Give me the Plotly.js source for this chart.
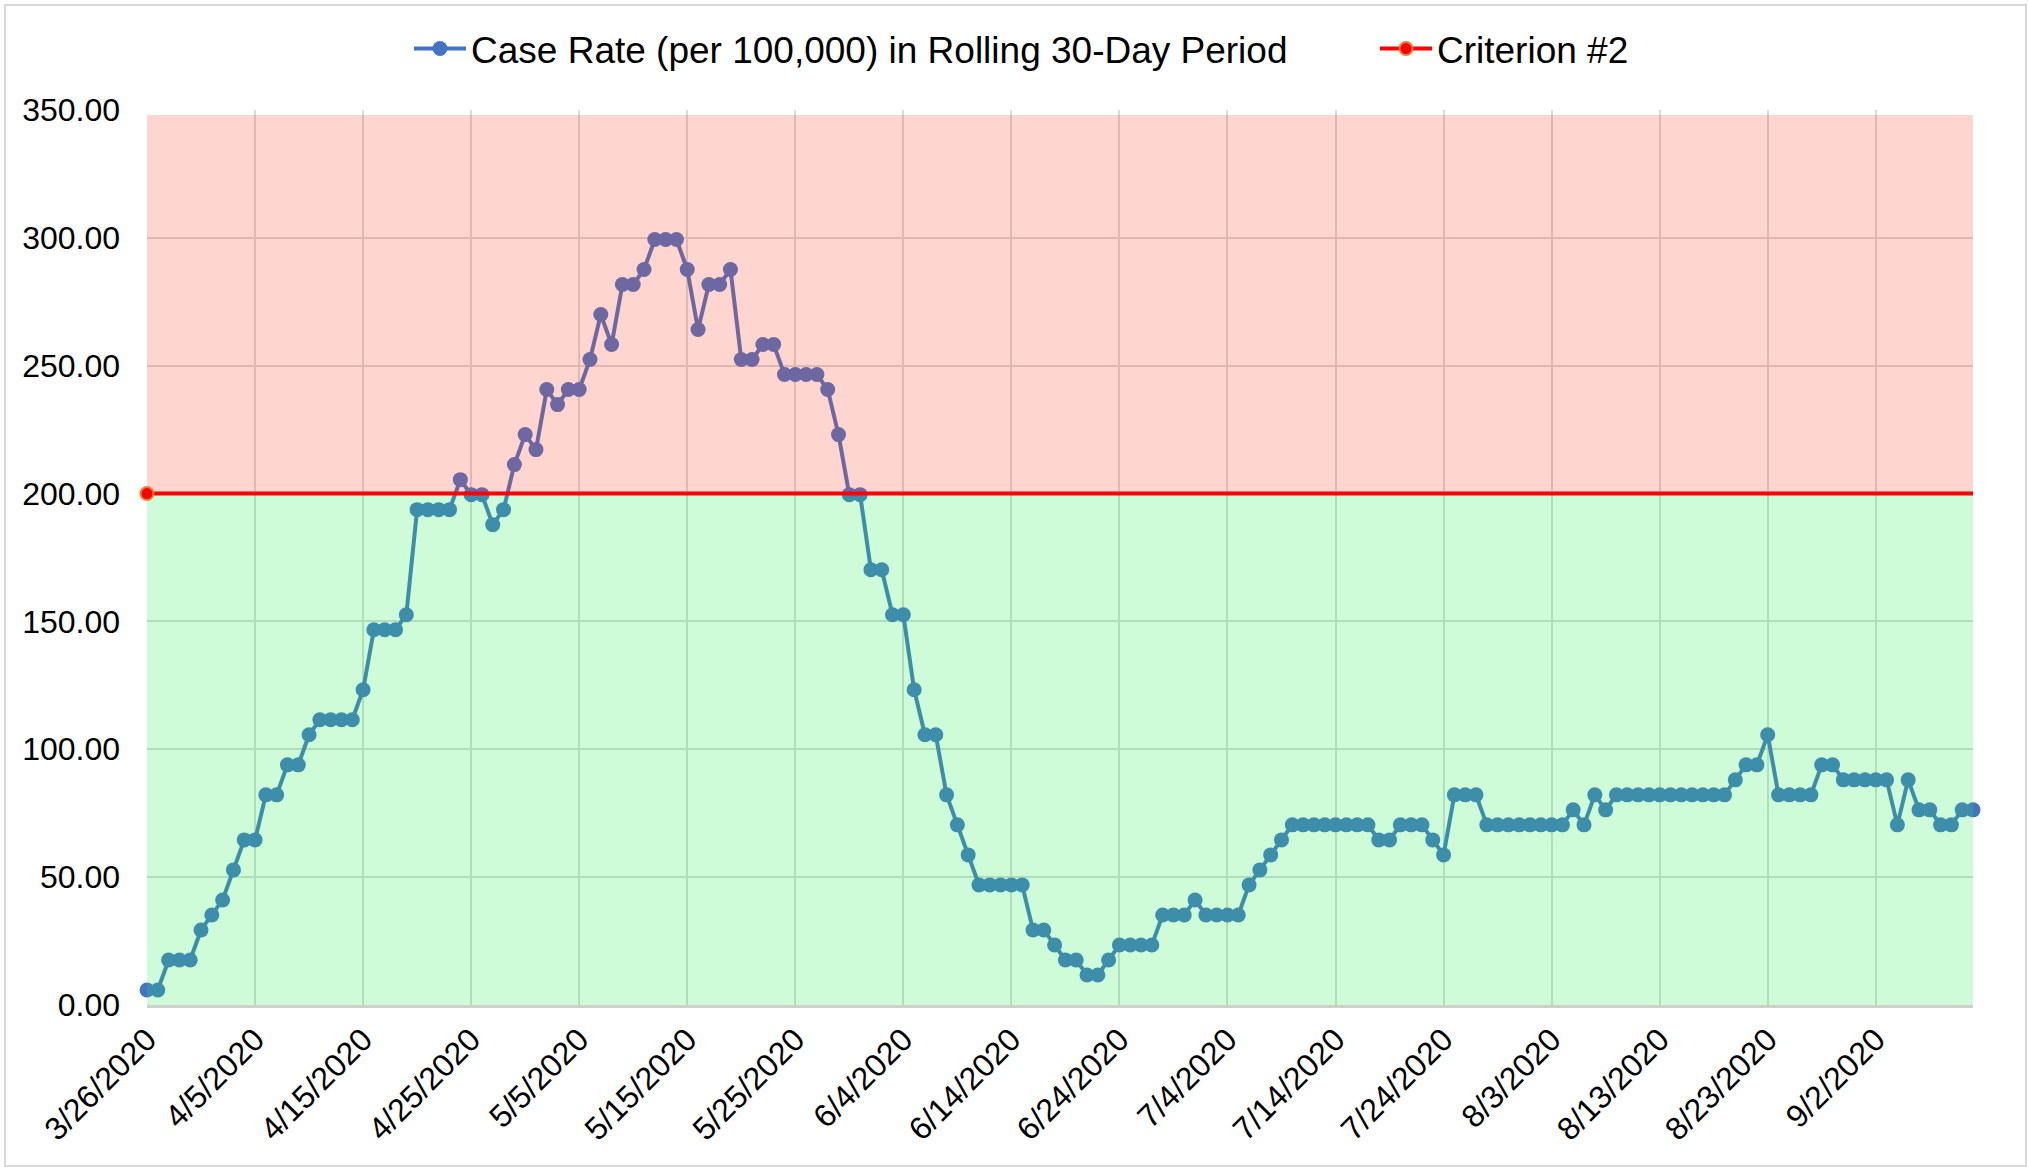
<!DOCTYPE html>
<html>
<head>
<meta charset="utf-8">
<script src="https://cdn.plot.ly/plotly-3.0.1.min.js"></script>
<style>
  html, body { margin: 0; padding: 0; background: #ffffff; }
  #wrap { position: relative; width: 2028px; height: 1167px; }
  #chart { position: absolute; left: 0; top: 0; width: 2028px; height: 1167px; }
  #frame { position: absolute; left: 4px; top: 4px; width: 2019px; height: 1159px;
           border: 2px solid #D9D9D9; pointer-events: none; }
</style>
</head>
<body>
<div id="wrap">
  <div id="chart"></div>
  <div id="frame"></div>
</div>
<script>
// ---- Data ----
const startDate = '2020-03-26';
const endDate = '2020-09-11';

// Case rate per 100,000 in rolling 30-day period, one value per day from 3/26/2020 to 9/11/2020
const caseRate = [
  5.87, 5.87, 17.61, 17.61, 17.61, 29.35, 35.22, 41.09, 52.83, 64.57,
  64.57, 82.18, 82.18, 93.92, 93.92, 105.66, 111.53, 111.53, 111.53, 111.53,
  123.27, 146.75, 146.75, 146.75, 152.62, 193.71, 193.71, 193.71, 193.71, 205.45,
  199.58, 199.58, 187.84, 193.71, 211.32, 223.06, 217.19, 240.67, 234.80, 240.67,
  240.67, 252.41, 270.02, 258.28, 281.76, 281.76, 287.63, 299.37, 299.37, 299.37,
  287.63, 264.15, 281.76, 281.76, 287.63, 252.41, 252.41, 258.28, 258.28, 246.54,
  246.54, 246.54, 246.54, 240.67, 223.06, 199.58, 199.58, 170.23, 170.23, 152.62,
  152.62, 123.27, 105.66, 105.66, 82.18, 70.44, 58.70, 46.96, 46.96, 46.96,
  46.96, 46.96, 29.35, 29.35, 23.48, 17.61, 17.61, 11.74, 11.74, 17.61,
  23.48, 23.48, 23.48, 23.48, 35.22, 35.22, 35.22, 41.09, 35.22, 35.22,
  35.22, 35.22, 46.96, 52.83, 58.70, 64.57, 70.44, 70.44, 70.44, 70.44,
  70.44, 70.44, 70.44, 70.44, 64.57, 64.57, 70.44, 70.44, 70.44, 64.57,
  58.70, 82.18, 82.18, 82.18, 70.44, 70.44, 70.44, 70.44, 70.44, 70.44,
  70.44, 70.44, 76.31, 70.44, 82.18, 76.31, 82.18, 82.18, 82.18, 82.18,
  82.18, 82.18, 82.18, 82.18, 82.18, 82.18, 82.18, 88.05, 93.92, 93.92,
  105.66, 82.18, 82.18, 82.18, 82.18, 93.92, 93.92, 88.05, 88.05, 88.05,
  88.05, 88.05, 70.44, 88.05, 76.31, 76.31, 70.44, 70.44, 76.31, 76.31
];

// Criterion #2 threshold
const criterionDates = [startDate, endDate];
const criterionValues = [200, 200];

// Background bands (green below criterion, red above)
const bandLow = 0;
const bandHigh = 348;

// Axis ticks
const xTickDates = ['2020-03-26', '2020-04-05', '2020-04-15', '2020-04-25', '2020-05-05',
  '2020-05-15', '2020-05-25', '2020-06-04', '2020-06-14', '2020-06-24', '2020-07-04',
  '2020-07-14', '2020-07-24', '2020-08-03', '2020-08-13', '2020-08-23', '2020-09-02'];
const xTickLabels = ['3/26/2020', '4/5/2020', '4/15/2020', '4/25/2020', '5/5/2020',
  '5/15/2020', '5/25/2020', '6/4/2020', '6/14/2020', '6/24/2020', '7/4/2020',
  '7/14/2020', '7/24/2020', '8/3/2020', '8/13/2020', '8/23/2020', '9/2/2020'];
const yTickValues = [0, 50, 100, 150, 200, 250, 300, 350];

const seriesNames = ['Case Rate (per 100,000) in Rolling 30-Day Period', 'Criterion #2'];

// consecutive daily dates for the case-rate series
const dates = [];
(function () {
  const d0 = new Date(startDate + 'T00:00:00Z');
  for (let i = 0; i < caseRate.length; i++) {
    const d = new Date(d0.getTime() + i * 86400000);
    dates.push(d.toISOString().slice(0, 10));
  }
})();

const FONT = 'Liberation Sans, Arial, sans-serif';
const thr = criterionValues[0];

const traces = [
  {
    type: 'scatter', mode: 'lines+markers', name: seriesNames[0],
    x: dates, y: caseRate,
    line: { color: '#4472C4', width: 4 },
    marker: { color: '#4472C4', size: 15 },
    cliponaxis: false, legend: 'legend'
  },
  {
    type: 'scatter', mode: 'lines', showlegend: false, hoverinfo: 'skip',
    x: [startDate, endDate, endDate, startDate],
    y: [bandLow, bandLow, thr, thr],
    fill: 'toself', fillcolor: 'rgba(32,241,77,0.22)',
    line: { width: 0, color: 'rgba(0,0,0,0)' }
  },
  {
    type: 'scatter', mode: 'lines', showlegend: false, hoverinfo: 'skip',
    x: [startDate, endDate, endDate, startDate],
    y: [thr, thr, bandHigh, bandHigh],
    fill: 'toself', fillcolor: 'rgba(255,64,41,0.22)',
    line: { width: 0, color: 'rgba(0,0,0,0)' }
  },
  {
    type: 'scatter', mode: 'lines+markers', name: seriesNames[1],
    x: criterionDates, y: criterionValues,
    line: { color: '#FF0000', width: 4 },
    marker: { color: '#FF0000', size: 13, line: { color: '#ED7D31', width: 2 } },
    selectedpoints: [0],
    selected: { marker: { opacity: 1 } },
    unselected: { marker: { opacity: 0 } },
    cliponaxis: false, legend: 'legend2'
  }
];

const legendCommon = {
  orientation: 'h', xref: 'container', yref: 'container',
  xanchor: 'left', y: 1 - 49 / 1167, yanchor: 'middle',
  font: { family: FONT, size: 37, color: '#000000' },
  itemwidth: 52,
  bgcolor: 'rgba(0,0,0,0)', borderwidth: 0
};

const layout = {
  width: 2028, height: 1167,
  margin: { l: 147, r: 55, t: 110, b: 162 },
  paper_bgcolor: '#FFFFFF', plot_bgcolor: '#FFFFFF',
  font: { family: FONT, color: '#000000', size: 32 },
  showlegend: true,
  legend: Object.assign({}, legendCommon, { x: 409 / 2028 }),
  legend2: Object.assign({}, legendCommon, { x: 1375 / 2028 }),
  xaxis: {
    type: 'date', range: [startDate, endDate],
    tickvals: xTickDates, ticktext: xTickLabels, tickangle: -45,
    tickfont: { family: FONT, size: 32, color: '#000000' },
    showgrid: true, gridcolor: '#D9D9D9', gridwidth: 2,
    showline: true, linecolor: '#CFCFCF', linewidth: 3,
    zeroline: false, ticks: '', layer: 'below traces',
    ticklabelstandoff: 0
  },
  yaxis: {
    range: [0, 350], tickvals: yTickValues, tickformat: '.2f',
    tickfont: { family: FONT, size: 32, color: '#000000' },
    showgrid: true, gridcolor: '#D9D9D9', gridwidth: 2,
    showline: false, zeroline: false, ticks: '', layer: 'below traces',
    ticklabelstandoff: 26
  },
  hovermode: false
};

Plotly.newPlot('chart', traces, layout, { staticPlot: true, displayModeBar: false });
</script>
</body>
</html>
